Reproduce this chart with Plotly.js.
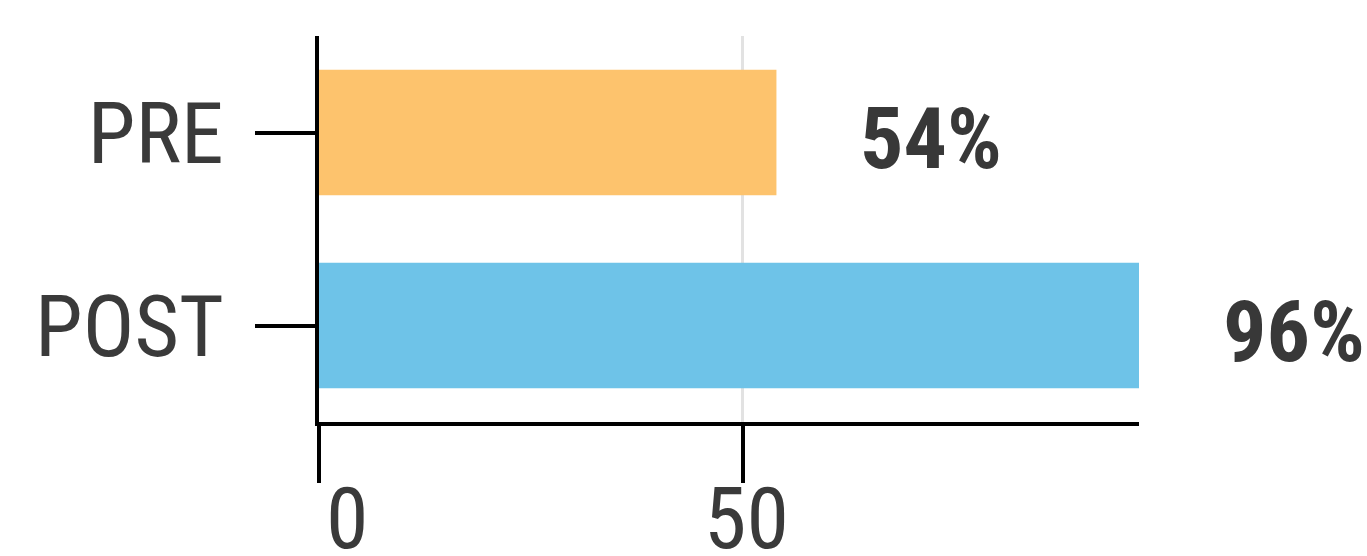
<!DOCTYPE html>
<html>
<head>
<meta charset="utf-8">
<script src="https://cdn.plot.ly/plotly-3.0.1.min.js"></script>
<style>html,body{margin:0;padding:0;background:#fff;}#chart{width:1367px;height:556px;}</style>
</head>
<body>
<div id="chart"></div>
<script>
var categories = ["PRE", "POST"];
var values = [54, 96.8];
var valueLabels = ["54%", "96%"];
var barColors = ["#FDC36D", "#6EC3E8"];
var xTickVals = [0, 50];
var xTickText = ["0", "50"];

var FONT = "'Roboto Condensed', 'Liberation Sans Narrow', 'DejaVu Sans Condensed', Roboto, sans-serif";

var trace = {
  type: "bar",
  orientation: "h",
  y: categories,
  x: values,
  marker: {color: barColors},
  width: 0.65,
  hoverinfo: "none"
};

var annotations = categories.map(function (c, i) {
  return {
    x: values[i], y: c, xref: "x", yref: "y",
    text: "<b>" + valueLabels[i] + "</b>",
    showarrow: false, xanchor: "left", yanchor: "middle",
    xshift: 82, yshift: -6,
    font: {family: FONT, size: 86, color: "#383838"}
  };
});
xTickVals.forEach(function (v, i) {
  annotations.push({
    x: v, y: 0, xref: "x", yref: "paper",
    text: xTickText[i], showarrow: false,
    xanchor: i === 0 ? "left" : "center", yanchor: "top",
    xshift: i === 0 ? 5 : 4, yshift: -44,
    font: {family: FONT, size: 86, color: "#3a3a3a"}
  });
});

var layout = {
  width: 1367, height: 556,
  margin: {l: 319, r: 228, t: 36, b: 134, pad: 0},
  paper_bgcolor: "#fff", plot_bgcolor: "#fff",
  showlegend: false,
  bargap: 0.35,
  xaxis: {
    range: [0, 96.8],
    tickvals: xTickVals, ticktext: xTickText,
    showticklabels: false,
    ticks: "outside", ticklen: 57, tickwidth: 4, tickcolor: "#000",
    showline: true, linecolor: "#000", linewidth: 4,
    showgrid: true, gridcolor: "#e2e2e2", gridwidth: 3,
    zeroline: false, fixedrange: true
  },
  yaxis: {
    autorange: "reversed",
    ticks: "outside", ticklen: 60, tickwidth: 4, tickcolor: "#000",
    showline: true, linecolor: "#000", linewidth: 4,
    showgrid: false, zeroline: false,
    ticklabelstandoff: 14,
    tickfont: {family: FONT, size: 86, color: "#3a3a3a"},
    fixedrange: true
  },
  annotations: annotations
};

Plotly.newPlot("chart", [trace], layout, {displayModeBar: false, staticPlot: true});
</script>
</body>
</html>
